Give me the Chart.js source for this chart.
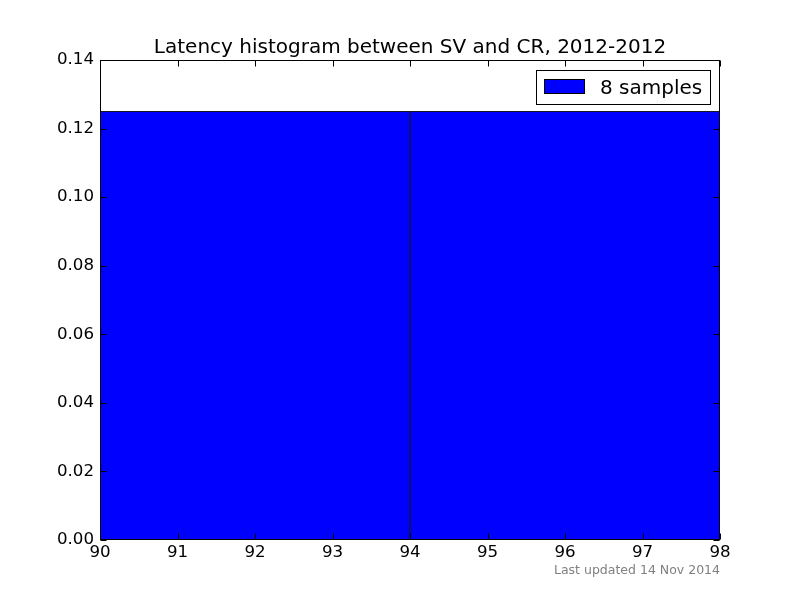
<!DOCTYPE html>
<html>
<head>
<meta charset="utf-8">
<script src="https://cdn.jsdelivr.net/npm/chart.js@4/dist/chart.umd.min.js"></script>
<style>
html,body{margin:0;padding:0;background:#fff;}
canvas{display:block;}
</style>
</head>
<body>
<canvas id="c" width="800" height="600"></canvas>
<script>
const titleText = "Latency histogram between SV and CR, 2012-2012";
const footerText = "Last updated 14 Nov 2014";
const seriesLabel = "8 samples";
const binEdges = [90, 94, 98];
const densities = [0.125, 0.125];
const xTicks = [90, 91, 92, 93, 94, 95, 96, 97, 98];
const yTicks = [0.00, 0.02, 0.04, 0.06, 0.08, 0.10, 0.12, 0.14];

const FONT = "'DejaVu Sans', 'Liberation Sans', sans-serif";

const points = densities.map((d, i) => ({ x: (binEdges[i] + binEdges[i + 1]) / 2, y: d }));

const decor = {
  id: 'decor',
  beforeDraw(chart) {
    const ctx = chart.ctx;
    ctx.save();
    ctx.fillStyle = '#fff';
    ctx.fillRect(0, 0, chart.width, chart.height);
    ctx.restore();
  },
  afterDatasetsDraw(chart) {
    const ctx = chart.ctx;
    const a = chart.chartArea;
    const xs = chart.scales.x, ys = chart.scales.y;
    const L = Math.round(a.left) + 0.5, R = Math.round(a.right) - 0.5;
    const T = Math.round(a.top) + 0.5, B = Math.round(a.bottom) - 0.5;
    ctx.save();
    ctx.strokeStyle = '#000';
    ctx.lineWidth = 1;
    const tl = 6;
    ctx.beginPath();
    xTicks.forEach(v => {
      const px = Math.round(xs.getPixelForValue(v)) + 0.5;
      ctx.moveTo(px, B); ctx.lineTo(px, B - tl);
      ctx.moveTo(px, T); ctx.lineTo(px, T + tl);
    });
    yTicks.forEach(v => {
      const py = Math.round(ys.getPixelForValue(v)) + 0.5;
      ctx.moveTo(L, py); ctx.lineTo(L + tl, py);
      ctx.moveTo(R, py); ctx.lineTo(R - tl, py);
    });
    ctx.stroke();
    ctx.strokeRect(L, T, R - L, B - T);

    // legend
    const lx = 536.5, ly = 70.5, lw = 174, lh = 34;
    ctx.fillStyle = '#fff';
    ctx.fillRect(lx, ly, lw, lh);
    ctx.strokeRect(lx, ly, lw, lh);
    const ds = chart.data.datasets[0];
    ctx.fillStyle = ds.backgroundColor;
    ctx.fillRect(544, 79, 40, 14);
    ctx.strokeStyle = '#000';
    ctx.strokeRect(544.5, 79.5, 40, 14);
    ctx.fillStyle = '#000';
    ctx.font = '20px ' + FONT;
    ctx.textAlign = 'left';
    ctx.textBaseline = 'alphabetic';
    ctx.fillText(ds.label, 600, 94);

    // title
    ctx.font = '20px ' + FONT;
    ctx.textAlign = 'center';
    ctx.fillText(titleText, (a.left + a.right) / 2, 53);

    // footer
    ctx.font = '12.5px ' + FONT;
    ctx.fillStyle = '#808080';
    ctx.textAlign = 'right';
    ctx.fillText(footerText, a.right, 574);
    ctx.restore();
  }
};

new Chart(document.getElementById('c'), {
  type: 'bar',
  data: {
    datasets: [{
      label: seriesLabel,
      data: points,
      backgroundColor: '#0000ff',
      borderColor: '#1a1a1a',
      borderWidth: 1,
      barThickness: 'flex',
      categoryPercentage: 1,
      barPercentage: 1
    }]
  },
  options: {
    responsive: false,
    animation: false,
    devicePixelRatio: 1,
    layout: { padding: { top: 60, right: 80, left: 0, bottom: 0 } },
    plugins: { legend: { display: false }, title: { display: false }, tooltip: { enabled: false } },
    scales: {
      x: {
        type: 'linear',
        min: binEdges[0],
        max: binEdges[binEdges.length - 1],
        offset: false,
        grid: { display: false, drawTicks: false, offset: false },
        border: { display: false },
        afterBuildTicks: s => { s.ticks = xTicks.map(v => ({ value: v })); },
        afterFit: s => { s.height = 60; },
        ticks: {
          color: '#000',
          padding: 3,
          maxRotation: 0,
          autoSkip: false,
          font: { family: FONT, size: 16.67 },
          callback: v => String(v)
        }
      },
      y: {
        min: 0,
        max: 0.14,
        grid: { display: false, drawTicks: false },
        border: { display: false },
        afterBuildTicks: s => { s.ticks = yTicks.map(v => ({ value: v })); },
        afterFit: s => { s.width = 100; },
        ticks: {
          color: '#000',
          padding: 6,
          autoSkip: false,
          font: { family: FONT, size: 16.67 },
          callback: v => Number(v).toFixed(2)
        }
      }
    }
  },
  plugins: [decor]
});
</script>
</body>
</html>
